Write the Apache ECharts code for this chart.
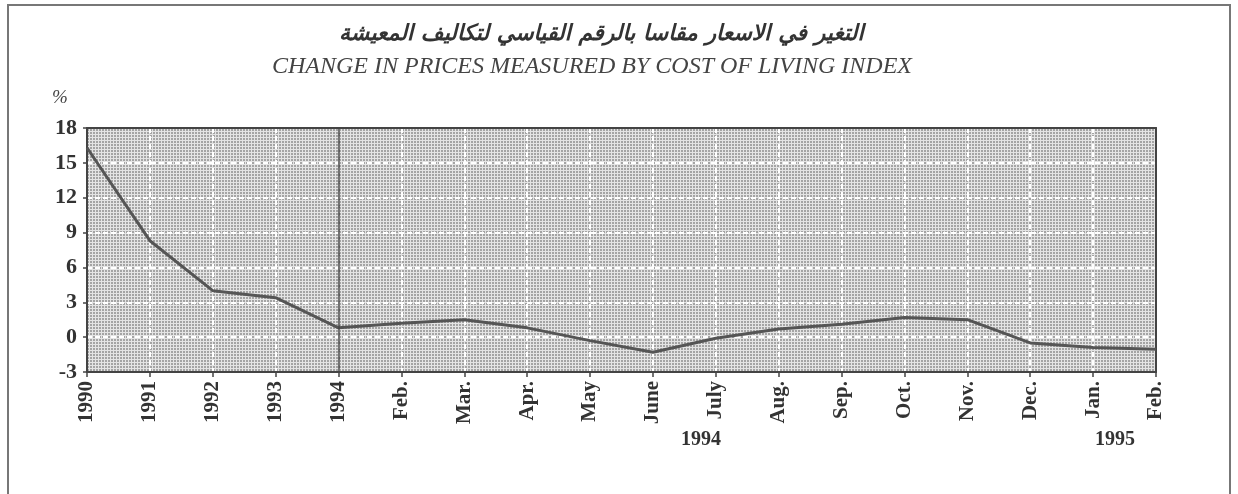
<!DOCTYPE html>
<html>
<head>
<meta charset="utf-8">
<script src="https://cdn.jsdelivr.net/npm/echarts@6/dist/echarts.min.js"></script>
<style>html,body{margin:0;padding:0;background:#fff}#c{width:1238px;height:494px}</style>
</head>
<body>
<div id="c"></div>
<script>
var categories = ['1990','1991','1992','1993','1994','Feb.','Mar.','Apr.','May','June','July','Aug.','Sep.','Oct.','Nov.','Dec.','Jan.','Feb.'];
var values = [16.3, 8.3, 4.0, 3.4, 0.8, 1.2, 1.5, 0.8, -0.3, -1.3, -0.1, 0.7, 1.1, 1.7, 1.5, -0.5, -0.9, -1.05];
var yTicks = [-3, 0, 3, 6, 9, 12, 15, 18];
var titleAr = 'التغير في الاسعار مقاسا بالرقم القياسي لتكاليف المعيشة';
var titleEn = 'CHANGE IN PRICES MEASURED BY COST OF LIVING INDEX';

var pc = document.createElement('canvas');
pc.width = 3; pc.height = 3;
var g = pc.getContext('2d');
g.fillStyle = '#e4e4e4'; g.fillRect(0,0,3,3);
g.fillStyle = '#a4a4a4'; g.fillRect(0,0,2,2);

var serif = '"Liberation Serif", "DejaVu Serif", serif';
var frameAxis = {
  axisLine: {show: true, onZero: false, lineStyle: {color: '#444', width: 2}},
  axisTick: {show: false}, axisLabel: {show: false}, splitLine: {show: false}
};
var gridLine = {show: true, lineStyle: {color: '#ffffff', type: [5, 3], width: 2}};
var chart = echarts.init(document.getElementById('c'));
chart.setOption({
  animation: false,
  grid: {left: 87, right: 82, top: 128, bottom: 122, show: true,
         backgroundColor: {image: pc, repeat: 'repeat'}, borderColor: '#444', borderWidth: 0},
  xAxis: [{
    type: 'category', data: categories, boundaryGap: false,
    axisLine: {onZero: false, lineStyle: {color: '#444', width: 2}},
    axisTick: {show: true, length: 5, lineStyle: {color: '#444', width: 1.5}},
    axisLabel: {rotate: 90, interval: 0, margin: 9, fontFamily: serif, fontWeight: 'bold', fontSize: 21, color: '#333'},
    splitLine: gridLine
  }, Object.assign({type: 'category', data: categories, boundaryGap: false, position: 'top'}, frameAxis)],
  yAxis: [{
    type: 'value', min: yTicks[0], max: yTicks[yTicks.length-1], interval: 3,
    axisLine: {show: true, onZero: false, lineStyle: {color: '#444', width: 2}},
    axisTick: {show: true, length: 4, lineStyle: {color: '#444', width: 1.5}},
    axisLabel: {fontFamily: serif, fontWeight: 'bold', fontSize: 22, color: '#333', margin: 10},
    splitLine: gridLine
  }, Object.assign({type: 'value', min: yTicks[0], max: yTicks[yTicks.length-1], interval: 3, position: 'right'}, frameAxis)],
  series: [{
    type: 'line', data: values, symbol: 'none',
    lineStyle: {color: '#555', width: 3},
    markLine: {symbol: 'none', silent: true, label: {show: false},
      lineStyle: {color: '#444', width: 1.5, type: 'solid'},
      data: [{xAxis: 4}]}
  }],
  graphic: [
    {type: 'rect', shape: {x: 8, y: 5, width: 1222, height: 500}, style: {fill: 'none', stroke: '#777', lineWidth: 2}},
    {type: 'text', left: 339, top: 23, style: {text: titleAr, font: 'italic bold 22px "DejaVu Sans"', fill: '#333'}},
    {type: 'text', left: 272, top: 55, style: {text: titleEn, font: 'italic 24px ' + serif, fill: '#444'}},
    {type: 'text', left: 52, top: 88, style: {text: '%', font: 'italic 19px ' + serif, fill: '#444'}},
    {type: 'text', left: 681, top: 430, style: {text: '1994', font: 'bold 20px ' + serif, fill: '#333'}},
    {type: 'text', left: 1095, top: 430, style: {text: '1995', font: 'bold 20px ' + serif, fill: '#333'}}
  ]
});
</script>
</body>
</html>
